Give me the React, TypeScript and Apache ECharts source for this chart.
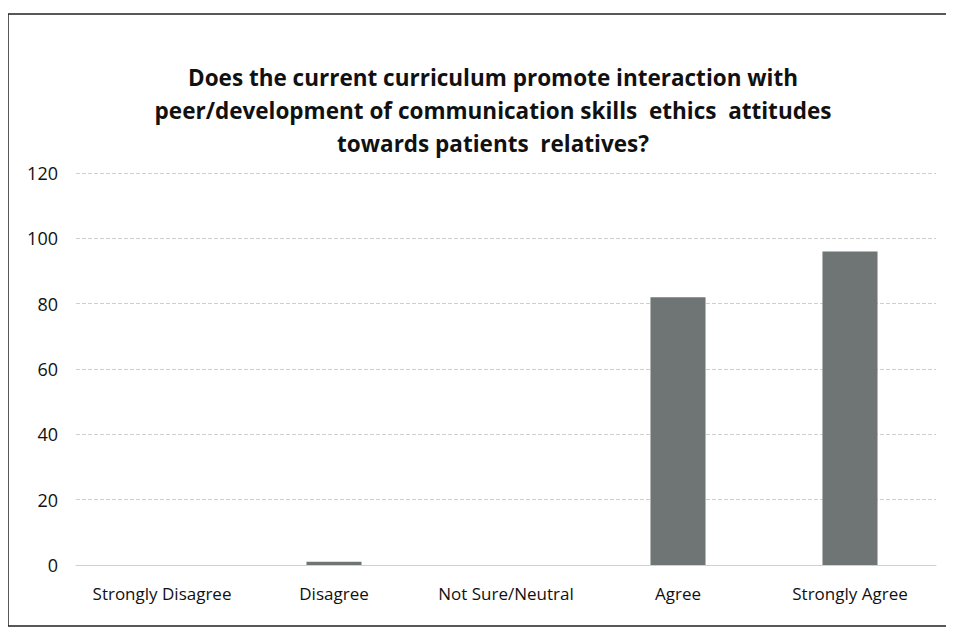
import React, { useEffect, useRef } from "react";
import * as echarts from "echarts";

const categories = ["Strongly Disagree", "Disagree", "Not Sure/Neutral", "Agree", "Strongly Agree"];
const values = [0, 1, 0, 82, 96];
const yTicks = [0, 20, 40, 60, 80, 100, 120];
const titleText =
  "Does the current curriculum promote interaction with\npeer/development of communication skills  ethics  attitudes\ntowards patients  relatives?";

export default function App() {
  const ref = useRef<HTMLDivElement>(null);
  useEffect(() => {
    if (!ref.current) return;
    const chart = echarts.init(ref.current, null, { renderer: "svg" });
    chart.setOption({
      animation: false,
      backgroundColor: "#ffffff",
      title: {
        text: titleText,
        left: 488,
        top: 56,
        textAlign: "center",
        textStyle: {
          fontFamily: "Open Sans, Liberation Sans, sans-serif",
          fontSize: 22.5,
          fontWeight: "bold",
          color: "#111111",
          lineHeight: 33,
        },
      },
      graphic: [
        {
          type: "rect",
          shape: { x: 8, y: 14, width: 944, height: 612 },
          style: { fill: "none", stroke: "#222222", lineWidth: 1.5 },
          silent: true,
        },
      ],
      grid: { left: 76, right: 18, top: 173, bottom: 74 },
      xAxis: {
        type: "category",
        data: categories,
        axisLine: { show: true, lineStyle: { color: "#d0d0d0" } },
        axisTick: { show: false },
        axisLabel: {
          interval: 0,
          hideOverlap: false,
          fontFamily: "Open Sans, Liberation Sans, sans-serif",
          fontSize: 17,
          color: "#111111",
          margin: 20,
        },
      },
      yAxis: {
        type: "value",
        min: 0,
        max: 120,
        interval: 20,
        axisLine: { show: false },
        axisTick: { show: false },
        splitLine: { lineStyle: { color: "#cfcfcf", type: "dashed", width: 1 } },
        axisLabel: {
          fontFamily: "Open Sans, Liberation Sans, sans-serif",
          fontSize: 18,
          color: "#111111",
          margin: 18,
          formatter: (v: number) => (yTicks.includes(v) ? String(v) : ""),
        },
      },
      series: [
        {
          type: "bar",
          data: values,
          barWidth: "32%",
          itemStyle: { color: "#6f7474" },
        },
      ],
    });
    return () => chart.dispose();
  }, []);
  return <div ref={ref} style={{ width: 954, height: 639, margin: -8 }} />;
}
